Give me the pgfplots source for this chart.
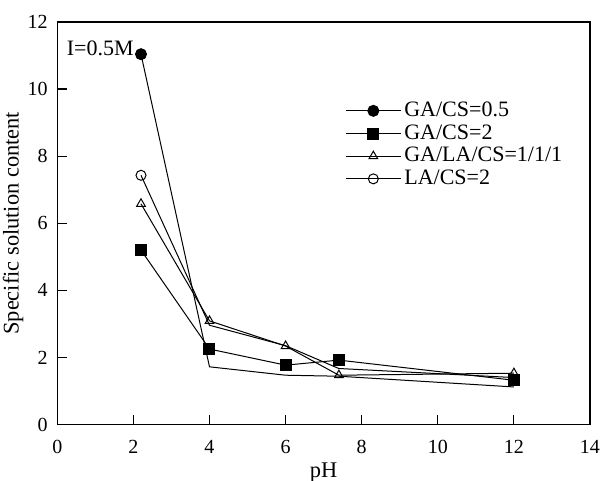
\documentclass[border=0pt]{standalone}
\usepackage{fontspec}
\setmainfont{Liberation Serif}
\usepackage{pgfplots}
\pgfplotsset{compat=1.18}

\begin{document}
\fontsize{11pt}{13pt}\selectfont
\begin{tikzpicture}
  \begin{axis}[
      scale only axis,
      width=266.4pt, height=201.3pt,
      xmin=0, xmax=14, ymin=0, ymax=12,
      xtick={0,2,...,14}, ytick={0,2,...,12},
      tick align=inside,
      xtick pos=left, ytick pos=left,
      major tick length=5pt,
      axis line style={line width=0.7pt},
      tick style={line width=0.6pt, black},
      /pgf/number format/assume math mode=true,
      tick label style={font=\fontsize{10pt}{12pt}\selectfont},
      xticklabel style={yshift=-4pt},
      yticklabel style={xshift=-1pt},
      label style={font=\fontsize{11.2pt}{13pt}\selectfont},
      xlabel={pH},
      ylabel={Specific solution content},
      xlabel style={yshift=3pt},
      ylabel style={yshift=-5.5pt},
      legend cell align=left,
      legend style={draw=none, fill=none, at={(0.54,0.81)}, anchor=north west,
        inner sep=0pt, row sep=-0.6pt,
        nodes={inner sep=1.5pt, font=\fontsize{11pt}{13pt}\selectfont}},
      legend image code/.code={
        \draw[mark repeat=2,mark phase=2] plot coordinates {(0pt,0pt) (13.75pt,0pt) (27.5pt,0pt)};},
      every axis plot/.append style={line width=0.5pt, black},
    ]
    % connecting lines for the two circle series (marker only at pH 2.2)
    \addplot[forget plot, no marks] coordinates {(2.2,11.04) (4,1.72) (6,1.47) (7.4,1.44) (12,1.12)};
    \addplot[forget plot, no marks] coordinates {(2.2,7.43) (4,2.96) (6,2.35) (7.4,1.67) (12,1.40)};

    \addplot[mark=*, mark size=2.75pt, mark options={fill=black}] coordinates {(2.2,11.04)};
    \addlegendentry{GA/CS=0.5}
    \addplot[mark=square*, mark size=2.75pt, mark options={fill=black}] coordinates {(2.2,5.20) (4,2.25) (6,1.77) (7.4,1.92) (12,1.32)};
    \addlegendentry{GA/CS=2}
    \addplot[mark=triangle, mark size=2.5pt, mark options={fill=white}] coordinates {(2.2,6.58) (4,3.09) (6,2.34) (7.4,1.47) (12,1.53)};
    \addlegendentry{GA/LA/CS=1/1/1}
    \addplot[mark=o, mark size=2.5pt, mark options={fill=white}] coordinates {(2.2,7.43)};
    \addlegendentry{LA/CS=2}

    \node[anchor=west, inner sep=0pt] at (axis cs:0.24,11.22) {I=0.5M};
  \end{axis}
  \pgfresetboundingbox
  \path (current axis.south west) ++(-28.65pt,-28.2pt) coordinate (bl);
  \path (current axis.north east) ++(5.5pt,11pt) coordinate (tr);
  \path (bl) rectangle (tr);
\end{tikzpicture}
\end{document}
